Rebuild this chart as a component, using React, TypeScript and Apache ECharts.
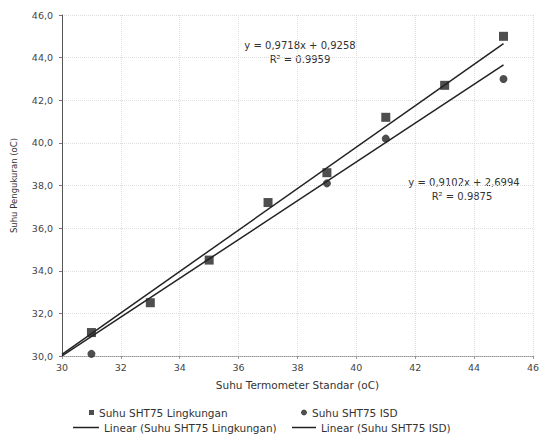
import React, { useEffect, useRef } from "react";
import * as echarts from "echarts";

const xLingkungan = [31, 33, 35, 37, 39, 41, 43, 45];
const yLingkungan = [31.1, 32.5, 34.5, 37.2, 38.6, 41.2, 42.7, 45.0];
const xISD = [31, 39, 41, 45];
const yISD = [30.1, 38.1, 40.2, 43.0];
const trendLingkungan = { slope: 0.9718, intercept: 0.9258, from: 30, to: 45 };
const trendISD = { slope: 0.9102, intercept: 2.6994, from: 30, to: 45 };
const eqLingkungan = ["y = 0,9718x + 0,9258", "R² = 0.9959"];
const eqISD = ["y = 0,9102x + 2,6994", "R² = 0.9875"];
const seriesNames = [
  "Suhu SHT75 Lingkungan",
  "Suhu SHT75 ISD",
  "Linear (Suhu SHT75 Lingkungan)",
  "Linear (Suhu SHT75 ISD)",
];
const xTitle = "Suhu Termometer Standar (oC)";
const yTitle = "Suhu Pengukuran (oC)";

const FONT = "'DejaVu Sans', Verdana, sans-serif";
const INK = "#222";

function trendPoints(t: { slope: number; intercept: number; from: number; to: number }) {
  return [
    [t.from, t.slope * t.from + t.intercept],
    [t.to, t.slope * t.to + t.intercept],
  ];
}

export default function App() {
  const ref = useRef<HTMLDivElement>(null);
  useEffect(() => {
    if (!ref.current) return;
    const chart = echarts.init(ref.current, undefined, { renderer: "svg" });
    const legendText = { fontFamily: FONT, fontSize: 10.5, color: "#333" };
    const eqStyle = { fontFamily: FONT, fontSize: 10, fill: "#333", align: "center", verticalAlign: "middle" };
    const option: any = {
      animation: false,
      backgroundColor: "#fff",
      grid: { left: 62, right: 5, top: 15, bottom: 92, containLabel: false },
      xAxis: {
        type: "value",
        min: 30,
        max: 46,
        interval: 2,
        name: xTitle,
        nameLocation: "middle",
        nameGap: 23,
        nameTextStyle: { fontFamily: FONT, fontSize: 10.5, color: "#333" },
        axisLine: { lineStyle: { color: "#999", type: "dotted", width: 1 } },
        axisTick: { show: true, length: 3, lineStyle: { color: "#999" } },
        axisLabel: { fontFamily: FONT, fontSize: 9.5, color: "#444", margin: 6 },
        splitLine: { show: true, lineStyle: { color: "#ddd", type: "dotted" } },
      },
      yAxis: {
        type: "value",
        min: 30,
        max: 46,
        interval: 2,
        name: yTitle,
        nameLocation: "middle",
        nameGap: 44,
        nameRotate: 90,
        nameTextStyle: { fontFamily: FONT, fontSize: 8.5, color: "#333" },
        axisLine: { show: true, lineStyle: { color: "#555", width: 1 } },
        axisTick: { show: true, length: 3, lineStyle: { color: "#777" } },
        axisLabel: {
          fontFamily: FONT,
          fontSize: 9.5,
          color: "#444",
          margin: 9,
          formatter: (v: number) => v.toFixed(1).replace(".", ","),
        },
        splitLine: { show: true, lineStyle: { color: "#ddd", type: "dotted" } },
      },
      legend: [
        {
          data: [{ name: seriesNames[0], icon: "rect" }],
          left: 84,
          top: 402,
          itemWidth: 5,
          itemHeight: 5,
          itemGap: 0,
          textStyle: legendText,
        },
        {
          data: [{ name: seriesNames[1], icon: "circle" }],
          left: 296,
          top: 402,
          itemWidth: 6,
          itemHeight: 6,
          itemGap: 0,
          textStyle: legendText,
        },
        {
          data: [{ name: seriesNames[2], icon: "rect" }],
          left: 68,
          top: 417,
          itemWidth: 26,
          itemHeight: 1.5,
          itemGap: 0,
          textStyle: legendText,
        },
        {
          data: [{ name: seriesNames[3], icon: "rect" }],
          left: 287,
          top: 417,
          itemWidth: 24,
          itemHeight: 1.5,
          itemGap: 0,
          textStyle: legendText,
        },
      ],
      series: [
        {
          name: seriesNames[0],
          type: "scatter",
          symbol: "rect",
          symbolSize: 9,
          itemStyle: { color: INK },
          data: xLingkungan.map((x, i) => [x, yLingkungan[i]]),
          z: 3,
        },
        {
          name: seriesNames[1],
          type: "scatter",
          symbol: "circle",
          symbolSize: 8,
          itemStyle: { color: INK },
          data: xISD.map((x, i) => [x, yISD[i]]),
          z: 3,
        },
        {
          name: seriesNames[2],
          type: "line",
          symbol: "none",
          lineStyle: { color: INK, width: 1.5 },
          itemStyle: { color: INK },
          data: trendPoints(trendLingkungan),
          z: 2,
        },
        {
          name: seriesNames[3],
          type: "line",
          symbol: "none",
          lineStyle: { color: INK, width: 1.5 },
          itemStyle: { color: INK },
          data: trendPoints(trendISD),
          z: 2,
        },
      ],
      graphic: [
        { type: "text", x: 300, y: 45, style: { ...eqStyle, text: eqLingkungan[0] } },
        { type: "text", x: 300, y: 59, style: { ...eqStyle, text: eqLingkungan[1] } },
        { type: "text", x: 464, y: 182, style: { ...eqStyle, text: eqISD[0] } },
        { type: "text", x: 462, y: 196, style: { ...eqStyle, text: eqISD[1] } },
      ],
    };
    chart.setOption(option);
    return () => chart.dispose();
  }, []);
  return (
    <div
      ref={ref}
      style={{ position: "fixed", left: 0, top: 0, width: 542, height: 448, background: "#fff" }}
    />
  );
}
